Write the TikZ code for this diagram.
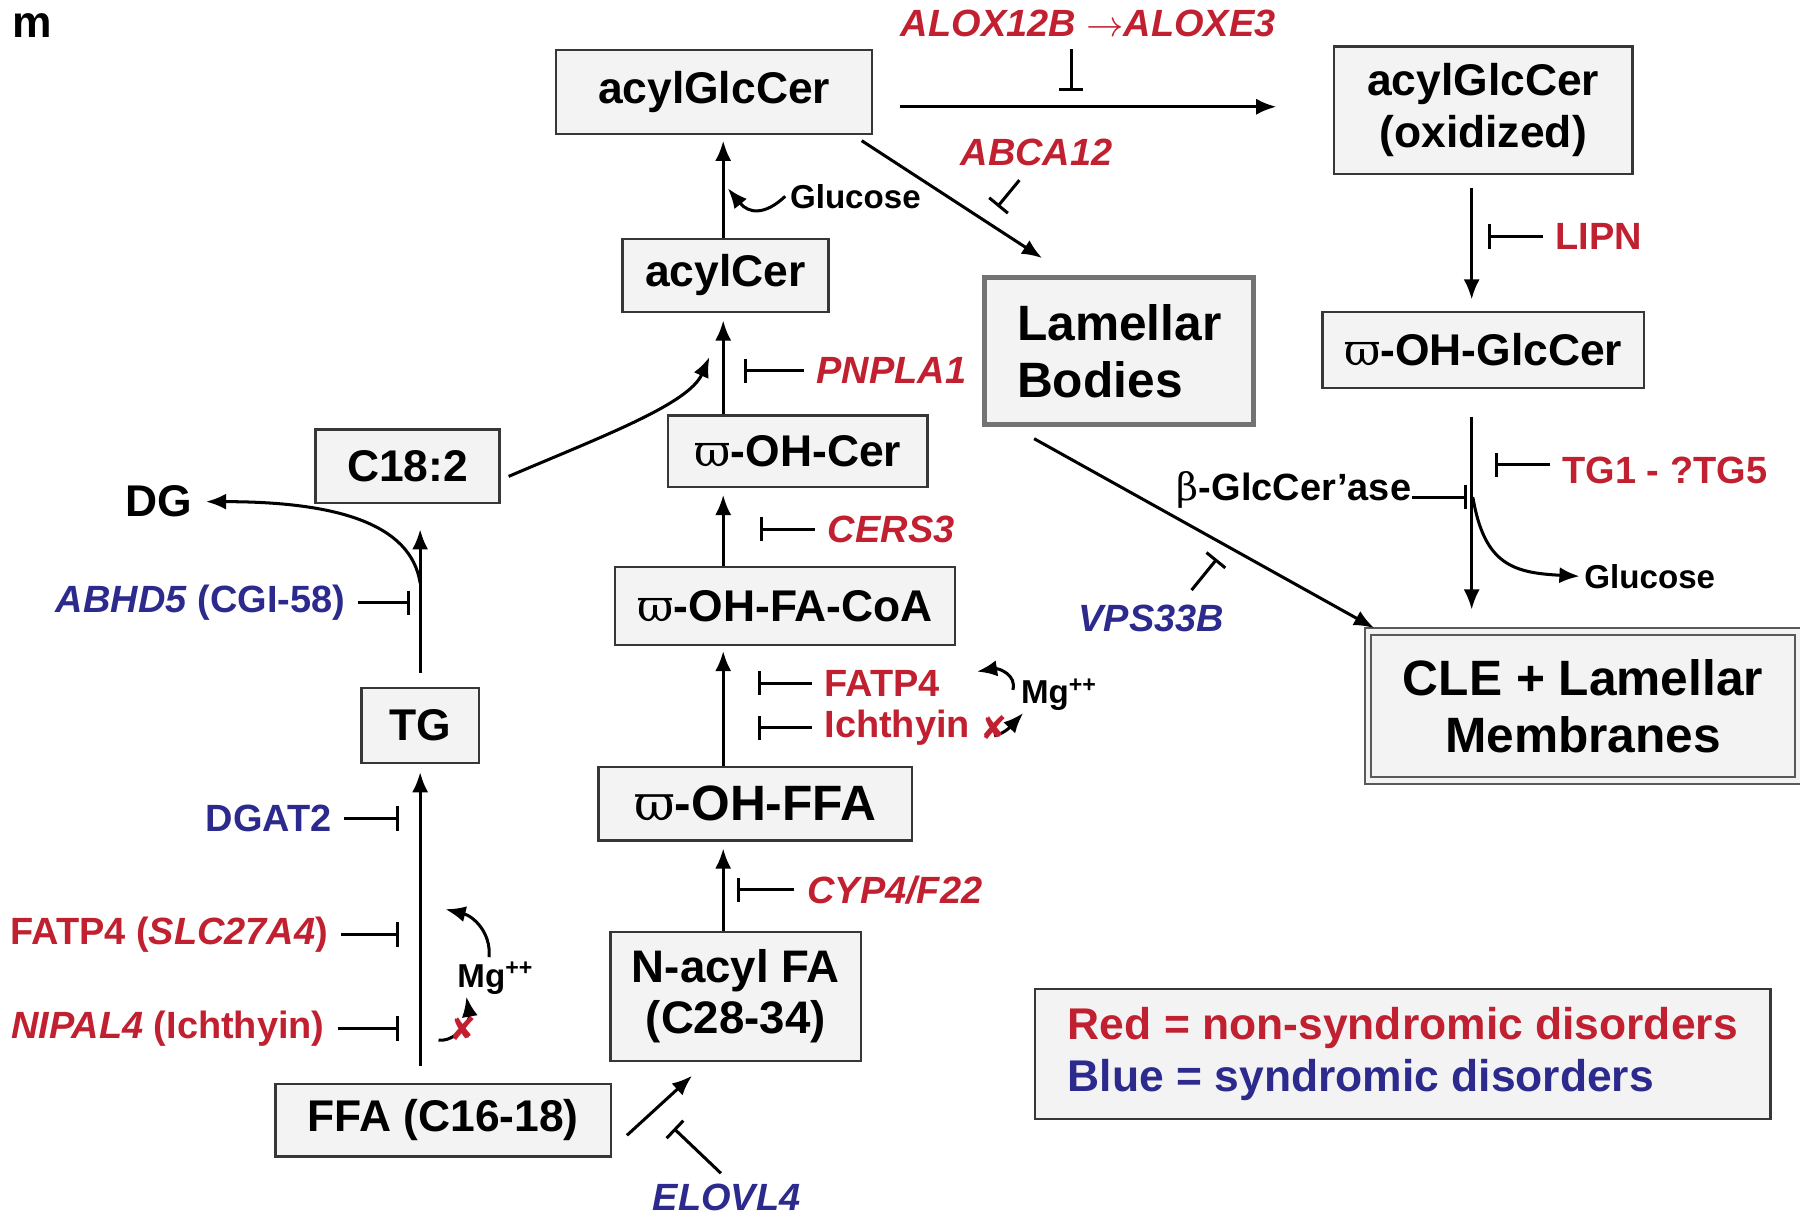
\documentclass[tikz,border=0pt]{standalone}
\usepackage{fontspec}
\setmainfont{Liberation Sans}
\newfontfamily\symfont{DejaVu Sans}
\newfontfamily\greekfont{DejaVu Serif}
\usepackage{tikz}
\usetikzlibrary{arrows.meta,
                positioning,
                calc}
\newcommand{\omg}{{\greekfont\fontseries{m}\selectfont ϖ}}
\newcommand{\bet}{{\greekfont\fontseries{m}\selectfont β}}
\definecolor{genered}{RGB}{192,32,48}
\definecolor{geneblue}{RGB}{44,42,140}
\definecolor{boxfill}{RGB}{243,243,243}
\definecolor{boxline}{RGB}{55,55,55}
\tikzset{lipid/.style =
   {rectangle,
    draw=boxline,
    fill=boxfill,
    line width=0.6pt,
    text centered,
    inner sep=2pt,
    font=\bfseries\fontsize{11}{13}\selectfont}}
\tikzset{bigbox/.style =
   {lipid,
    draw=black!55,
    line width=1.2pt,
    font=\bfseries\fontsize{12.3}{14.2}\selectfont}}
\tikzset{doublebox/.style =
   {bigbox,
    draw=black!65,
    line width=0.5pt,
    double=boxfill,
    double distance=1.1pt}}
\tikzset{gene/.style =
   {inner sep=3pt,
    font=\bfseries\fontsize{9.4}{11}\selectfont}}
\tikzset{redgene/.style = {gene, text=genered}}
\tikzset{bluegene/.style = {gene, text=geneblue}}
\tikzset{smalltext/.style = {inner sep=1pt, font=\bfseries\fontsize{8.2}{9}\selectfont}}
\tikzset{xmark/.style = {inner sep=0pt, text=genered, font=\symfont\bfseries\fontsize{8}{9}\selectfont}}
\tikzset{arrow/.style = {draw, line width=0.75pt, -{Latex[length=5pt,width=4pt]}}}
\tikzset{inhibit/.style = {draw, line width=0.75pt, -{Bar[width=6pt]}}}

\begin{document}
\begin{tikzpicture}[x=0.01cm, y=-0.01cm]
    \useasboundingbox (0,0) rectangle (1568,1064);

    \node [font=\bfseries\fontsize{11}{13}\selectfont] (panel) at (28,22) {m};

    % lipid species
    \node [lipid, minimum width=2.75cm, minimum height=0.73cm] (glccer) at (622,80) {acylGlcCer};
    \node [lipid, align=center, minimum width=2.60cm, minimum height=1.11cm] (oxglccer) at (1292,96) {acylGlcCer\\(oxidized)};
    \node [lipid, minimum width=1.79cm, minimum height=0.64cm] (acylcer) at (632,240) {acylCer};
    \node [bigbox, align=left, minimum width=2.34cm, minimum height=1.28cm] (lamb) at (975,306) {Lamellar\\Bodies};
    \node [lipid, minimum width=2.80cm, minimum height=0.66cm] (ohglccer) at (1292,305) {\omg-OH-GlcCer};
    \node [lipid, minimum width=1.60cm, minimum height=0.64cm] (c18) at (355,406) {C18:2};
    \node [lipid, minimum width=2.26cm, minimum height=0.62cm] (ohcer) at (695,393) {\omg-OH-Cer};
    \node [lipid, minimum width=2.96cm, minimum height=0.68cm] (ohcoa) at (684,528) {\omg-OH-FA-CoA};
    \node [lipid, minimum width=1.02cm, minimum height=0.65cm] (tg) at (366,632) {TG};
    \node [lipid, minimum width=2.73cm, minimum height=0.64cm,
           font=\bfseries\fontsize{12.3}{14}\selectfont] (offa) at (658,700) {\omg-OH-FFA};
    \node [lipid, align=center, minimum width=2.18cm, minimum height=1.12cm,
           font=\bfseries\fontsize{11.3}{12.6}\selectfont] (nacyl) at (641,868) {N-acyl FA\\(C28-34)};
    \node [lipid, minimum width=2.92cm, minimum height=0.63cm] (ffa) at (386,976) {FFA (C16-18)};
    \node [doublebox, align=center, minimum width=3.74cm, minimum height=1.30cm] (cle) at (1379,615) {CLE + Lamellar\\Membranes};
    \node [font=\bfseries\fontsize{11}{13}\selectfont] (dg) at (138,437) {DG};

    \node [lipid, align=left, minimum width=6.40cm, minimum height=1.13cm] (legend) at (1222,918)
    {\textcolor{genered}{Red = non-syndromic disorders}\\
     \textcolor{geneblue}{Blue = syndromic disorders}};

    % columns of the main chains
    \coordinate (colA) at (630,0);
    \coordinate (colB) at (366,0);
    \coordinate (colC) at (1282,0);

    % main conversions
    \draw [arrow, shorten >=0.05cm] (colA |- acylcer.north) -- (colA |- glccer.south);
    \draw [arrow, shorten >=0.06cm] (colA |- ohcer.north) -- (colA |- acylcer.south);
    \draw [arrow, shorten >=0.06cm] (colA |- ohcoa.north) -- (colA |- ohcer.south);
    \draw [arrow, shorten >=0.04cm] (colA |- offa.north) -- (colA |- ohcoa.south);
    \draw [arrow, shorten >=0.06cm] (colA |- nacyl.north) -- (colA |- offa.south);
    \draw [arrow] ($(ffa.east)+(13,13)$) -- ($(nacyl.south west)+(72,12)$);
    \draw [arrow, shorten <=0.15cm, shorten >=0.07cm] (colB |- ffa.north) -- (colB |- tg.south);
    \draw [arrow, shorten <=0.12cm, shorten >=0.22cm] (colB |- tg.north) -- (colB |- c18.south);
    \draw [arrow] ($(glccer.east)+(23,13)$) -- ($(oxglccer.west)+(-49,-3)$);
    \draw [arrow] ($(glccer.south east)+(-10,5)$) -- ($(lamb.north west)+(52,-15)$);
    \draw [arrow, shorten <=0.11cm, shorten >=0.10cm] (colC |- oxglccer.south) -- (colC |- ohglccer.north);
    \draw [arrow, shorten <=0.24cm, shorten >=0.18cm] (colC |- ohglccer.south) -- (colC |- cle.north);
    \draw [arrow] ($(lamb.south west)+(45,10)$) -- ($(cle.north west)+(6,-2)$);

    % side branches
    \coordinate (c18T) at (618,311);
    \draw [arrow] ($(c18.east)+(7,9)$) .. controls (525,380) and (600,352) .. (c18T);
    \coordinate (dgBr) at (366,508);
    \draw [arrow] (dgBr) .. controls (358,455) and (290,437) .. (dg.east);

    \node [smalltext, anchor=west] (gluc1) at (684,171) {Glucose};
    \coordinate (glucP) at (634,164);
    \draw [arrow] (gluc1.west) .. controls (666,188) and (652,186) .. (glucP);

    \node [smalltext, anchor=west] (gluc2) at (1376,502) {Glucose};
    \coordinate (glcBr) at (1283,433);
    \draw [arrow] (glcBr) .. controls (1293,492) and (1318,499) .. (gluc2.west);

    % genes
    \node [redgene] (alox) at (948,20) {\textit{ALOX12B} $\rightarrow$\textit{ALOXE3}};
    \coordinate (aloxT) at (933,79);
    \draw [inhibit] (aloxT |- alox.south) -- (aloxT);

    \node [redgene] (abca) at (903,133) {\textit{ABCA12}};
    \coordinate (abcaT) at (869,180);
    \draw [inhibit] ($(abca.south)+(-15,1)$) -- (abcaT);

    \node [redgene, anchor=west] (lipn) at (1344,206) {LIPN};
    \coordinate (lipnT) at (1296,206);
    \draw [inhibit] (lipn.west) -- (lipnT);

    \node [redgene, anchor=west] (tgm) at (1350,410) {TG1 - ?TG5};
    \coordinate (tgmT) at (1302,405);
    \draw [inhibit] (tgmT -| tgm.west) -- (tgmT);

    \node [gene, anchor=east, inner sep=0pt] (bglc) at (1230,427) {\bet-GlcCer'ase};
    \coordinate (bglcT) at (1278,433);
    \draw [inhibit] (bglcT -| bglc.east) -- (bglcT);

    \node [bluegene] (vps) at (1003,539) {\textit{VPS33B}};
    \coordinate (vpsT) at (1060,487);
    \draw [inhibit] ($(vps.north)+(35,-2)$) -- (vpsT);

    \node [redgene, anchor=west] (pnpla) at (700,323) {\textit{PNPLA1}};
    \coordinate (pnplaT) at (648,323);
    \draw [inhibit] (pnpla.west) -- (pnplaT);

    \node [redgene, anchor=west] (cers) at (710,461) {\textit{CERS3}};
    \coordinate (cersT) at (662,461);
    \draw [inhibit] (cers.west) -- (cersT);

    \node [redgene, anchor=west] (fatpA) at (707,595) {FATP4};
    \coordinate (fatpAT) at (660,595);
    \draw [inhibit] (fatpA.west) -- (fatpAT);

    \node [redgene, anchor=west] (ichA) at (707,634) {Ichthyin};
    \coordinate (ichAT) at (660,634);
    \draw [inhibit] (ichA.west) -- (ichAT);

    \node [redgene, anchor=west] (cyp) at (692,775) {\textit{CYP4/F22}};
    \coordinate (cypT) at (642,775);
    \draw [inhibit] (cyp.west) -- (cypT);

    \node [bluegene] (elovl) at (633,1043) {\textit{ELOVL4}};
    \coordinate (elovlT) at (587,983);
    \draw [inhibit] ($(elovl.north)+(-5,2)$) -- (elovlT);

    \node [bluegene, anchor=east] (abhd) at (312,525) {\textit{ABHD5} (CGI-58)};
    \coordinate (abhdT) at (357,525);
    \draw [inhibit] (abhd.east) -- (abhdT);

    \node [bluegene, anchor=east] (dgat) at (300,713) {DGAT2};
    \coordinate (dgatT) at (348,713);
    \draw [inhibit] (dgat.east) -- (dgatT);

    \node [redgene, anchor=east] (fatpB) at (297,814) {FATP4 (\textit{SLC27A4})};
    \coordinate (fatpBT) at (348,814);
    \draw [inhibit] (fatpB.east) -- (fatpBT);

    \node [redgene, anchor=east] (nipal) at (294,896) {\textit{NIPAL4} (Ichthyin)};
    \coordinate (nipalT) at (348,896);
    \draw [inhibit] (nipal.east) -- (nipalT);

    % magnesium loops
    \node [smalltext] (mgA) at (432,852) {Mg\textsuperscript{++}};
    \coordinate (mgAup) at (388,792);
    \coordinate (mgAlow) at (382,906);
    \draw [arrow] ($(mgA.north)+(-6,0)$) .. controls (428,812) and (412,798) .. (mgAup);
    \draw [arrow] (mgAlow) .. controls (396,908) and (410,890) .. ($(mgA.south west)+(12,-2)$);
    \node [xmark] (xA) at (403,896) {✘};

    \node [smalltext] (mgB) at (923,605) {Mg\textsuperscript{++}};
    \coordinate (mgBup) at (851,585);
    \coordinate (mgBlow) at (866,641);
    \draw [arrow] ($(mgB.west)+(-3,-4)$) .. controls (886,588) and (870,582) .. (mgBup);
    \draw [arrow] (mgBlow) .. controls (876,639) and (883,630) .. ($(mgB.south west)+(6,-2)$);
    \node [xmark] (xB) at (866,634) {✘};

\end{tikzpicture}
\end{document}
